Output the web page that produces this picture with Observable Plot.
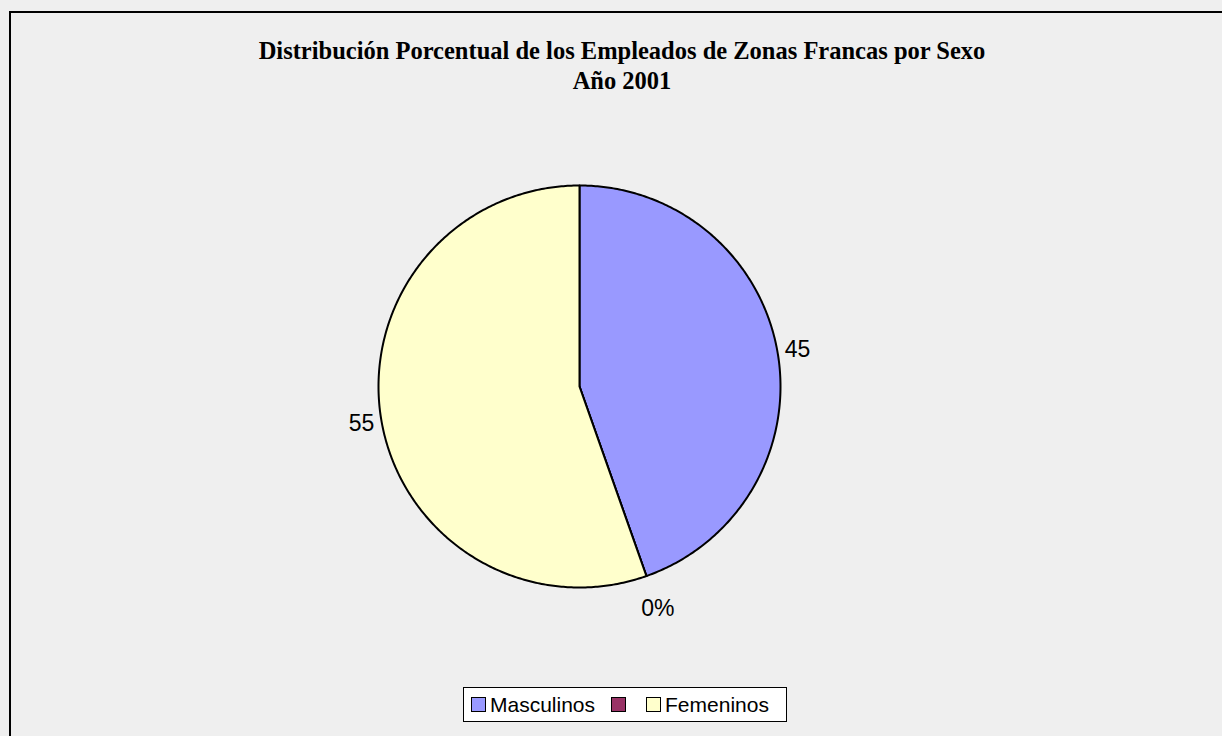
<!DOCTYPE html>
<html>
<head>
<meta charset="utf-8">
<script src="https://cdn.jsdelivr.net/npm/d3@7"></script>
<script src="https://cdn.jsdelivr.net/npm/@observablehq/plot@0.6"></script>
<style>
  html, body { margin: 0; padding: 0; background: #ffffff; }
  #wrap { position: relative; width: 1222px; height: 736px; overflow: hidden;
          background: #efefef; }
  #frame { position: absolute; left: 9px; top: 11px; right: -4px; bottom: -4px;
           border-left: 2px solid #000; border-top: 2px solid #000; }
  #title { position: absolute; left: 0; width: 1244px; top: 36px; text-align: center;
           font-family: "Liberation Serif", "Times New Roman", serif; font-weight: bold;
           font-size: 24.5px; line-height: 30px; color: #000; }
  #plot { position: absolute; left: 0; top: 130px; }
  #legend { position: absolute; left: 463px; top: 687px; width: 324px; height: 35px;
            border: 1px solid #000; background: #ffffff; box-sizing: border-box;
            font-family: "Liberation Sans", Arial, sans-serif; font-size: 21px;
            display: flex; align-items: center; padding-left: 7px; }
  .item { display: flex; align-items: center; margin-right: 16px; }
  .sw { width: 15px; height: 15px; border: 1.5px solid #000; margin-right: 4px; box-sizing: border-box; }
</style>
</head>
<body>
<div id="wrap">
  <div id="frame"></div>
  <div id="title"></div>
  <div id="plot"></div>
  <div id="legend"></div>
</div>
<script>
const titleLines = ["Distribución Porcentual de los Empleados de Zonas Francas por Sexo", "Año 2001"];
const categories = ["Masculinos", "", "Femeninos"];
const values = [44.6, 0, 55.4];
const labels = ["45", "0%", "55"];
const colors = ["#9999FF", "#993366", "#FFFFCC"];

document.getElementById("title").innerHTML = titleLines.join("<br>");

// pie geometry from data
const pie = d3.pie().sort(null).value(d => d.value);
const arcs = pie(categories.map((c, i) => ({cat: c || "(vacío)", value: values[i], label: labels[i]})));
const poly = [];
const lab = [];
arcs.forEach(a => {
  const n = Math.max(2, Math.ceil((a.endAngle - a.startAngle) / 0.01));
  poly.push({cat: a.data.cat, x: 0, y: 0});
  for (let k = 0; k <= n; k++) {
    const t = a.startAngle + (a.endAngle - a.startAngle) * k / n;
    poly.push({cat: a.data.cat, x: Math.sin(t), y: Math.cos(t)});
  }
  const m = (a.startAngle + a.endAngle) / 2;
  const r = a.value === 0 ? 1.17 : 1.1;
  lab.push({text: a.data.label, x: r * Math.sin(m), y: r * Math.cos(m)});
});

const W = 1222, H = 520, R = 201, cx = 579, cy = 256;
const plot = Plot.plot({
  width: W, height: H, margin: 0,
  x: {domain: [-cx / R, (W - cx) / R], axis: null},
  y: {domain: [-(H - cy) / R, cy / R], axis: null},
  color: {domain: arcs.map(a => a.data.cat), range: colors},
  style: {background: "transparent", overflow: "visible"},
  marks: [
    Plot.line(poly, {x: "x", y: "y", z: "cat", fill: "cat", stroke: "#000", strokeWidth: 2,
                     curve: "linear-closed", strokeLinejoin: "round"}),
    Plot.text(lab, {x: "x", y: "y", text: "text", fontSize: 23,
                    fontFamily: "Liberation Sans, Arial, sans-serif", fill: "#000"})
  ]
});
document.getElementById("plot").appendChild(plot);

// legend
const lg = document.getElementById("legend");
categories.forEach((c, i) => {
  const it = document.createElement("div");
  it.className = "item";
  it.innerHTML = `<span class="sw" style="background:${colors[i]}"></span><span>${c}</span>`;
  lg.appendChild(it);
});
</script>
</body>
</html>
